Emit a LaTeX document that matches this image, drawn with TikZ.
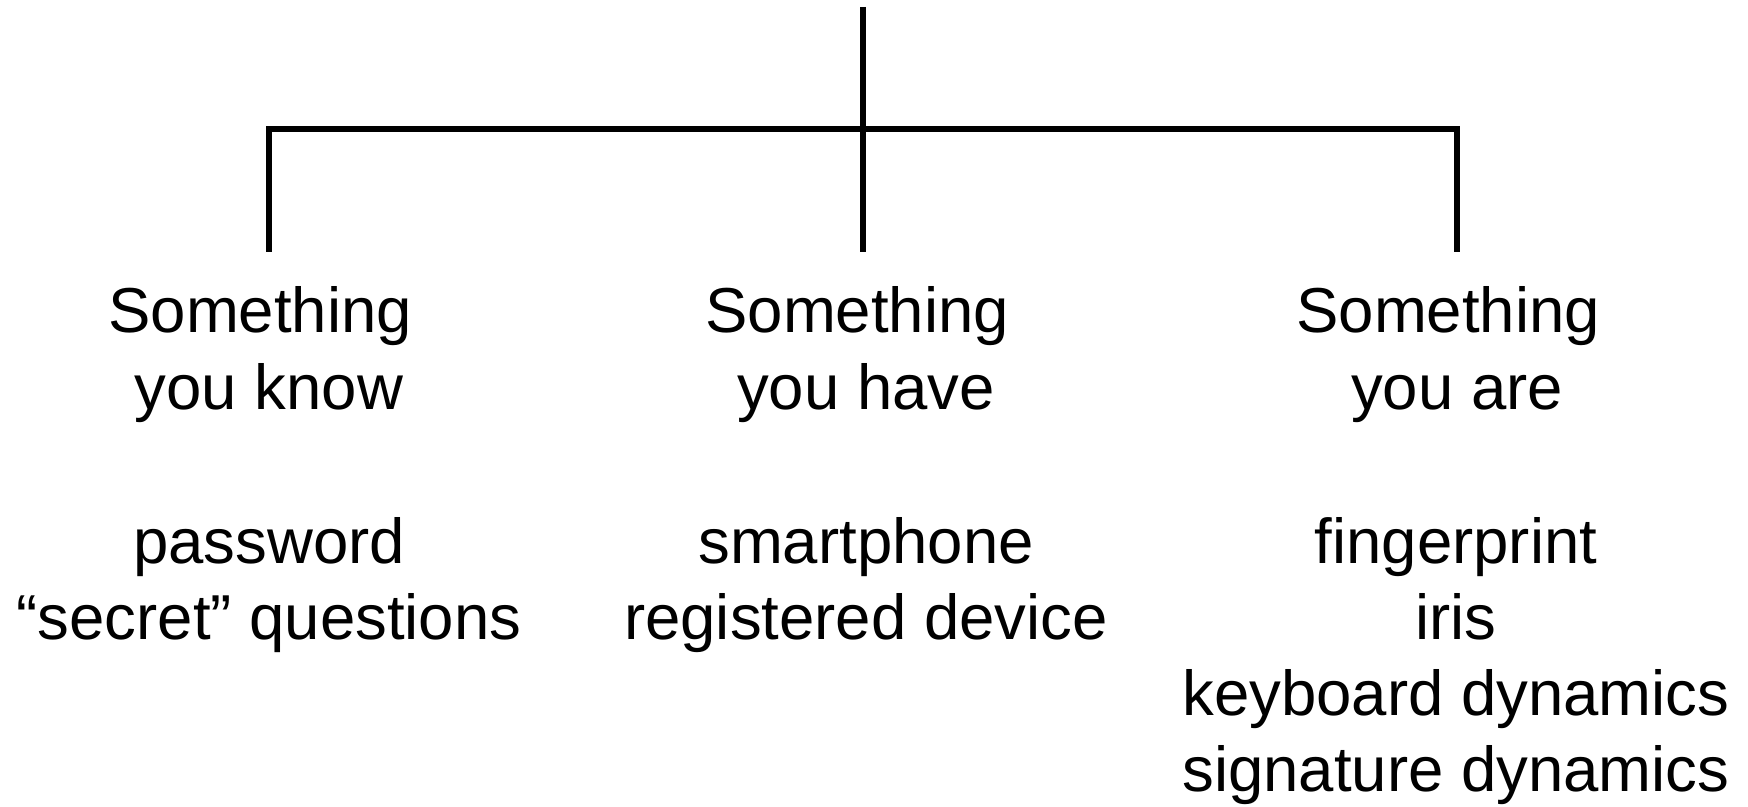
\documentclass[tikz,border=0pt]{standalone}
\usepackage{fontspec}
\setmainfont{Liberation Sans}
\tikzset{
  treeline/.style={line width=3pt, black},
  label/.style={inner sep=0pt, anchor=base, font=\fontsize{31.75}{38}\selectfont}
}
\newcommand{\blk}[1]{\begin{tabular}[t]{@{}c@{}}#1\end{tabular}}
\begin{document}
\begin{tikzpicture}[x=0.5pt, y=-0.5pt]
\useasboundingbox (0,0) rectangle (1748,807);
% tree coordinates
\coordinate (root) at (863,7);
\coordinate (bar) at (863,129);
\coordinate (kbar) at (269,129);
\coordinate (abar) at (1457,129);
\coordinate (kend) at (269,252);
\coordinate (hend) at (863,252);
\coordinate (aend) at (1457,252);
% texts
\node[label] (know) at (269,333) {\blk{Something\kern.278em\\you know}};
\node[label] (have) at (866,333) {\blk{Something\kern.278em\\you have}};
\node[label] (are) at (1457,333) {\blk{Something\kern.278em\\you are}};
\node[label] (knowex) at (269,563) {\blk{password\\“secret” questions}};
\node[label] (haveex) at (866,563) {\blk{smartphone\\registered device}};
\node[label] (areex) at (1456,563) {\blk{fingerprint\\iris\\keyboard dynamics\\signature dynamics}};
% connectors
\draw[treeline] (root) -- (bar);
\draw[treeline, line cap=rect] (kbar) -- (abar);
\draw[treeline] (kbar) -- (kend);
\draw[treeline] (bar) -- (hend);
\draw[treeline] (abar) -- (aend);
\end{tikzpicture}
\end{document}
